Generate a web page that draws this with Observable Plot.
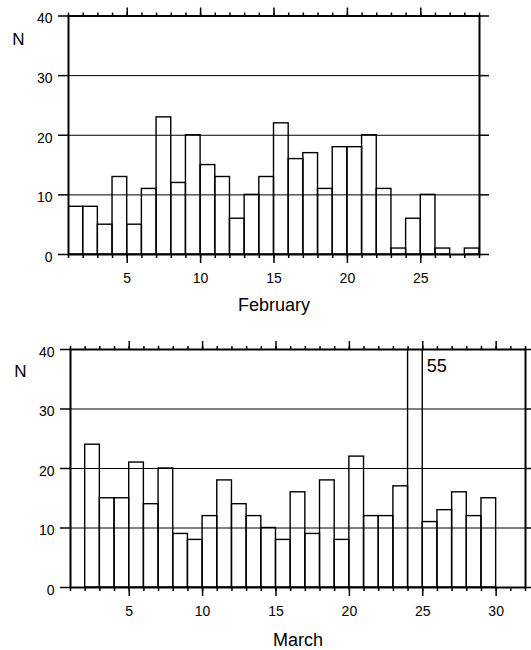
<!DOCTYPE html>
<html>
<head>
<meta charset="utf-8">
<script src="https://cdn.jsdelivr.net/npm/d3@7"></script>
<script src="https://cdn.jsdelivr.net/npm/@observablehq/plot@0.6"></script>
<style>
  html, body { margin: 0; padding: 0; background: #fff; }
  #chart svg { display: block; }
</style>
</head>
<body>
<div id="chart"></div>
<script>
// ---- data ----
const febDays = [1,2,3,4,5,6,7,8,9,10,11,12,13,14,15,16,17,18,19,20,21,22,23,24,25,26,27,28];
const febCounts = [8,8,5,13,5,11,23,12,20,15,13,6,10,13,22,16,17,11,18,18,20,11,1,6,10,1,0,1];
const marDays = [1,2,3,4,5,6,7,8,9,10,11,12,13,14,15,16,17,18,19,20,21,22,23,24,25,26,27,28,29,30,31];
const marCounts = [0,24,15,15,21,14,20,9,8,12,18,14,12,10,8,16,9,18,8,22,12,12,17,55,11,13,16,12,15,0,0];
const febLabel = "February";
const marLabel = "March";
const yLabel = "N";
const yTicks = [0,10,20,30,40];
const gridValues = [10,20,30];
const febXTicks = [5,10,15,20,25];
const marXTicks = [5,10,15,20,25,30];

const FONT = "'Liberation Sans', Arial, Helvetica, sans-serif";

function panel({days, counts, domain, majorTicks, label, height, marginLeft, marginRight, marginTop, marginBottom, labelDy, nDy}) {
  const data = days.map((d, i) => ({day: d, n: counts[i]}));
  const allTicks = d3.range(domain[0], domain[1] + 1);
  const yMax = 40;
  return Plot.plot({
    width: 531,
    height,
    marginLeft, marginRight, marginTop, marginBottom,
    style: {fontFamily: FONT, background: "#fff", color: "#000", overflow: "visible"},
    x: {domain, axis: null},
    y: {domain: [0, yMax], axis: null},
    marks: [
      Plot.ruleY(gridValues, {stroke: "#000", strokeWidth: 1}),
      Plot.rect(data, {x1: "day", x2: d => d.day + 1, y1: 0, y2: "n", fill: "none", stroke: "#000", strokeWidth: 1.4, clip: true}),
      Plot.frame({stroke: "#000", strokeWidth: 2}),
      // top axis ticks
      Plot.axisX({anchor: "top", ticks: allTicks, tickSize: 4, fill: "none", label: null, strokeWidth: 1.5}),
      Plot.axisX({anchor: "top", ticks: majorTicks, tickSize: 9, fill: "none", label: null, strokeWidth: 1.5}),
      // bottom axis ticks + labels
      Plot.axisX({anchor: "bottom", ticks: allTicks, tickSize: 4, fill: "none", label: null, strokeWidth: 1.5}),
      Plot.axisX({anchor: "bottom", ticks: majorTicks, tickSize: 9, tickPadding: 10, fontSize: 14, label: null, strokeWidth: 1.5}),
      // y axes
      Plot.axisY({anchor: "left", ticks: yTicks, tickSize: 10, fill: "none", label: null, strokeWidth: 1.5}),
      Plot.axisY({anchor: "left", ticks: yTicks, tickSize: 0, tickPadding: 16, dy: 3, fontSize: 14, label: null}),
      Plot.axisY({anchor: "right", ticks: yTicks, tickSize: 9, fill: "none", label: null, strokeWidth: 1.5}),
      // N label
      Plot.text([yLabel], {frameAnchor: "top-left", dx: -50, dy: nDy, textAnchor: "middle", lineAnchor: "middle", fontSize: 17}),
      // x label
      Plot.text([label], {frameAnchor: "bottom", dy: labelDy, lineAnchor: "bottom", fontSize: 18}),
      // off-scale annotation
      Plot.text(data.filter(d => d.n > yMax), {x: d => d.day + 1, y: yMax, text: d => String(d.n), dx: 4, dy: 10, textAnchor: "start", lineAnchor: "top", fontSize: 18})
    ]
  });
}

const chart = document.getElementById("chart");
chart.appendChild(panel({
  days: febDays, counts: febCounts, domain: [1, 29], majorTicks: febXTicks, label: febLabel,
  height: 320, marginLeft: 68, marginRight: 52, marginTop: 15.5, marginBottom: 66, labelDy: 56, nDy: 24
}));
chart.appendChild(panel({
  days: marDays, counts: marCounts, domain: [1, 32], majorTicks: marXTicks, label: marLabel,
  height: 330, marginLeft: 70, marginRight: 6, marginTop: 29, marginBottom: 63, labelDy: 58, nDy: 22
}));
</script>
</body>
</html>
